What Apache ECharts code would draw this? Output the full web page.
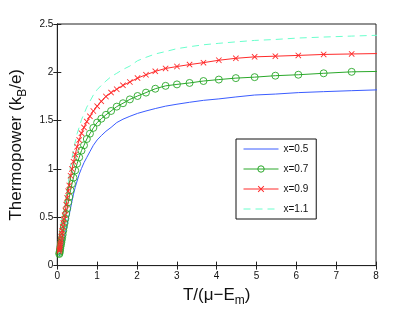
<!DOCTYPE html>
<html><head><meta charset="utf-8">
<script src="https://cdn.jsdelivr.net/npm/echarts@6/dist/echarts.min.js"></script>
<style>html,body{margin:0;padding:0;background:#fff}#c{width:415px;height:312px}</style>
</head><body><div id="c"></div>
<script>
// Sample temperatures T/(mu-E_m)
const T = [0.050,0.055,0.061,0.067,0.074,0.082,0.091,0.100,0.111,0.122,0.135,0.150,0.165,0.183,0.202,0.223,0.247,0.273,0.301,0.333,0.368,0.407,0.449,0.497,0.549,0.607,0.670,0.741,0.819,0.905,1.000,1.105,1.221,1.350,1.492,1.649,1.822,2.014,2.226,2.460,2.718,3.004,3.320,3.669,4.055,4.482,4.953,5.474,6.050,6.686,7.389,8.166];
// Thermopower (k_B/e)
const x05 = [0.10,0.105,0.11,0.12,0.125,0.135,0.145,0.16,0.175,0.195,0.215,0.24,0.265,0.30,0.335,0.375,0.425,0.48,0.53,0.595,0.665,0.74,0.81,0.875,0.945,1.005,1.065,1.12,1.18,1.245,1.30,1.345,1.39,1.43,1.48,1.515,1.545,1.575,1.60,1.625,1.65,1.67,1.69,1.71,1.725,1.745,1.765,1.775,1.79,1.80,1.81,1.82];
const x07 = [0.12,0.13,0.145,0.16,0.18,0.20,0.22,0.24,0.265,0.29,0.32,0.36,0.40,0.44,0.485,0.535,0.59,0.655,0.71,0.78,0.845,0.91,0.985,1.055,1.12,1.19,1.245,1.31,1.365,1.425,1.48,1.52,1.56,1.60,1.645,1.68,1.72,1.755,1.79,1.83,1.86,1.875,1.89,1.91,1.925,1.94,1.95,1.965,1.975,1.99,2.005,2.01];
const x09 = [0.15,0.165,0.18,0.20,0.22,0.245,0.27,0.30,0.33,0.36,0.40,0.44,0.48,0.52,0.57,0.63,0.70,0.77,0.83,0.93,1.00,1.075,1.15,1.23,1.30,1.37,1.43,1.49,1.545,1.60,1.65,1.70,1.75,1.79,1.825,1.865,1.90,1.94,1.975,2.01,2.04,2.06,2.08,2.10,2.125,2.145,2.16,2.167,2.175,2.185,2.19,2.195];
const x11 = [0.13,0.15,0.17,0.19,0.21,0.24,0.27,0.30,0.34,0.37,0.42,0.47,0.52,0.58,0.64,0.71,0.78,0.86,0.94,1.03,1.11,1.19,1.28,1.365,1.43,1.51,1.57,1.64,1.70,1.765,1.82,1.865,1.91,1.955,1.99,2.03,2.065,2.12,2.155,2.19,2.215,2.245,2.265,2.285,2.30,2.315,2.33,2.34,2.355,2.365,2.375,2.385];
const xTicks = [0,1,2,3,4,5,6,7,8];
const yTicks = [0,0.5,1,1.5,2,2.5];
const names = ['x=0.5','x=0.7','x=0.9','x=1.1'];

const FONT = 'Liberation Sans, Arial, sans-serif';
const pts = arr => T.map((t,i)=>[t, arr[i]]);
const xMin = xTicks[0], xMax = xTicks[xTicks.length-1], xInt = xTicks[1]-xTicks[0];
const yMin = yTicks[0], yMax = yTicks[yTicks.length-1], yInt = yTicks[1]-yTicks[0];
const crossPath = 'path://M0,1L1,0L5,4L9,0L10,1L6,5L10,9L9,10L5,6L1,10L0,9L4,5Z';
const C = {b:'#3a5cff', g:'#2aa82a', r:'#ff2a2a', c:'#6affcc'};

const axisCommon = {
  type:'value', splitLine:{show:false},
  axisLine:{show:true, lineStyle:{color:'#222', width:1}},
  axisTick:{show:true, inside:true, length:4, lineStyle:{color:'#222'}},
};
const chart = echarts.init(document.getElementById('c'), null, {renderer:'canvas'});
chart.setOption({
  animation:false,
  backgroundColor:'#fff',
  grid:{left:54, right:39, top:24, bottom:40, show:true, borderColor:'#222', borderWidth:1, backgroundColor:'transparent'},
  xAxis:[
    Object.assign({}, axisCommon, {min:xMin, max:xMax, interval:xInt, position:'bottom',
      axisLabel:{margin:6, fontSize:10, color:'#111', fontFamily:FONT},
      name:'{a|T/(μ−E}{b|m}{a|)}', nameLocation:'middle', nameGap:13,
      nameTextStyle:{rich:{a:{fontSize:17, fontFamily:FONT, color:'#111', lineHeight:24, verticalAlign:'middle'}, b:{fontSize:12, fontFamily:FONT, color:'#111', lineHeight:12, verticalAlign:'bottom'}}}}),
    Object.assign({}, axisCommon, {min:xMin, max:xMax, interval:xInt, position:'top', axisLabel:{show:false}})
  ],
  yAxis:[
    Object.assign({}, axisCommon, {min:yMin, max:yMax, interval:yInt, position:'left',
      axisLabel:{margin:4, fontSize:10, color:'#111', fontFamily:FONT},
      name:'{a|Thermopower (k}{b|B}{a|/e)}', nameLocation:'middle', nameGap:23, nameRotate:90,
      nameTextStyle:{rich:{a:{fontSize:17, fontFamily:FONT, color:'#111', lineHeight:24, verticalAlign:'middle'}, b:{fontSize:12, fontFamily:FONT, color:'#111', lineHeight:12, verticalAlign:'bottom'}}}}),
    Object.assign({}, axisCommon, {min:yMin, max:yMax, interval:yInt, position:'right', axisLabel:{show:false}})
  ],
  legend:{
    orient:'vertical', left:236, top:139,
    data:[
      {name:names[0], itemStyle:{opacity:0}},
      {name:names[1], itemStyle:{borderWidth:1}},
      {name:names[2]},
      {name:names[3], itemStyle:{opacity:0}}
    ],
    backgroundColor:'#fff', borderColor:'#111', borderWidth:1,
    padding:[5,8,5,7], itemWidth:35, itemHeight:8, itemGap:10, itemTextGap:3,
    lineStyle:{width:1},
    textStyle:{fontSize:10, color:'#111', fontFamily:FONT}
  },
  series:[
    {name:names[0], type:'line', data:pts(x05), symbol:'none', clip:true,
      lineStyle:{color:C.b, width:1}, itemStyle:{color:C.b}},
    {name:names[1], type:'line', data:pts(x07), symbol:'circle', symbolSize:7, clip:true,
      lineStyle:{color:C.g, width:1}, itemStyle:{color:'rgba(255,255,255,0)', borderColor:C.g, borderWidth:0.9}},
    {name:names[2], type:'line', data:pts(x09), symbol:crossPath, symbolSize:6, clip:true,
      lineStyle:{color:C.r, width:1}, itemStyle:{color:C.r, borderWidth:0}},
    {name:names[3], type:'line', data:pts(x11), symbol:'none', clip:true,
      lineStyle:{color:C.c, width:1, type:[7,5]}, itemStyle:{color:C.c}}
  ]
});
</script></body></html>
